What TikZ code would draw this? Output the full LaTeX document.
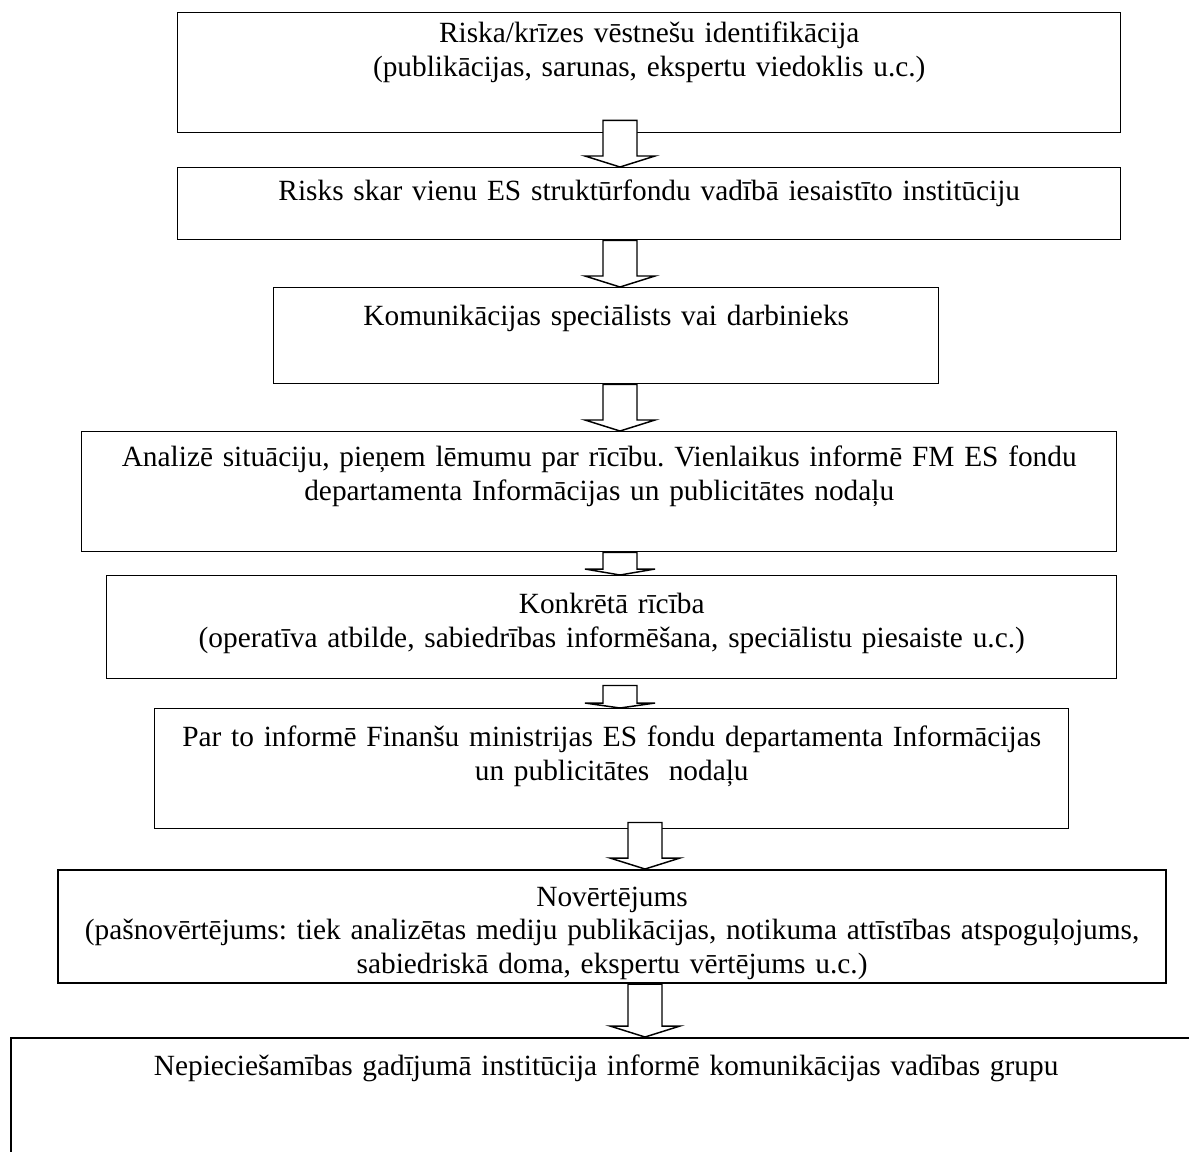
\documentclass[tikz,border=0pt]{standalone}
\usepackage{fontspec}
\setmainfont[Ligatures={TeX,NoCommon}]{Liberation Serif}
\usepackage{tikz}
\usetikzlibrary{calc}
\newdimen\unitpx
\unitpx=0.409pt
\frenchspacing

\begin{document}
\begin{tikzpicture}[
    x=0.409pt, y=-0.409pt,
    stage/.style={draw, line width=0.6pt, anchor=north west, inner sep=0pt, align=center, font=\fontsize{12}{13.8}\selectfont},
    hollow/.style={draw, fill=white, line width=0.6pt, line join=miter}
]
    \useasboundingbox (0,0) rectangle (1189,1151);

    % the steps, top to bottom
    \node[stage, text width=943\unitpx, text height=30\unitpx, text depth=90\unitpx] (r1) at (177,12)
        {Riska/krīzes vēstnešu identifikācija\\(publikācijas, sarunas, ekspertu viedoklis u.c.)};
    \node[stage, text width=943\unitpx, text height=33\unitpx, text depth=39\unitpx] (r2) at (177,167)
        {Risks skar vienu ES struktūrfondu vadībā iesaistīto institūciju};
    \node[stage, text width=665\unitpx, text height=38\unitpx, text depth=58\unitpx] (r3) at (273,287)
        {Komunikācijas speciālists vai darbinieks};
    \node[stage, text width=1035\unitpx, text height=35\unitpx, text depth=85\unitpx] (r4) at (81,431)
        {Analizē situāciju, pieņem lēmumu par rīcību. Vienlaikus informē FM ES fondu\\departamenta Informācijas un publicitātes nodaļu};
    \node[stage, text width=1010\unitpx, text height=38\unitpx, text depth=65\unitpx] (r5) at (106,575)
        {Konkrētā rīcība\\(operatīva atbilde, sabiedrības informēšana, speciālistu piesaiste u.c.)};
    \node[stage, text width=914\unitpx, text height=38\unitpx, text depth=82\unitpx] (r6) at (154,708)
        {Par to informē Finanšu ministrijas ES fondu departamenta Informācijas\\un publicitātes\ \ nodaļu};
    \node[stage, line width=0.9pt, text width=1108\unitpx, text height=36\unitpx, text depth=77\unitpx] (r7) at (57,869)
        {Novērtējums\\(pašnovērtējums: tiek analizētas mediju publikācijas, notikuma attīstības atspoguļojums,\\sabiedriskā doma, ekspertu vērtējums u.c.)};
    \node[stage, line width=0.9pt, text width=1190\unitpx, text height=37\unitpx, text depth=126\unitpx] (r8) at (10,1037)
        {Nepieciešamības gadījumā institūcija informē komunikācijas vadības grupu};

    % block arrows between the steps
    \foreach \src/\dst/\cx/\off/\hd in {r1/r2/620/-13/11, r2/r3/620/0/11, r3/r4/620/0/11, r4/r5/620/0/6,
                                        r5/r6/620/6/5, r6/r7/645/-7/11, r7/r8/645/0/11}{
        \coordinate (tip) at (\dst.north -| \cx,0);
        \coordinate (top) at ($(\src.south -| \cx,0)+(0,\off)$);
        \draw[hollow] ($(top)+(-17,0)$) -- ($(top)+(17,0)$) -- ($(tip)+(17,-\hd)$) -- ($(tip)+(35,-\hd)$)
            -- (tip) -- ($(tip)+(-35,-\hd)$) -- ($(tip)+(-17,-\hd)$) -- cycle;
    }
\end{tikzpicture}
\end{document}
